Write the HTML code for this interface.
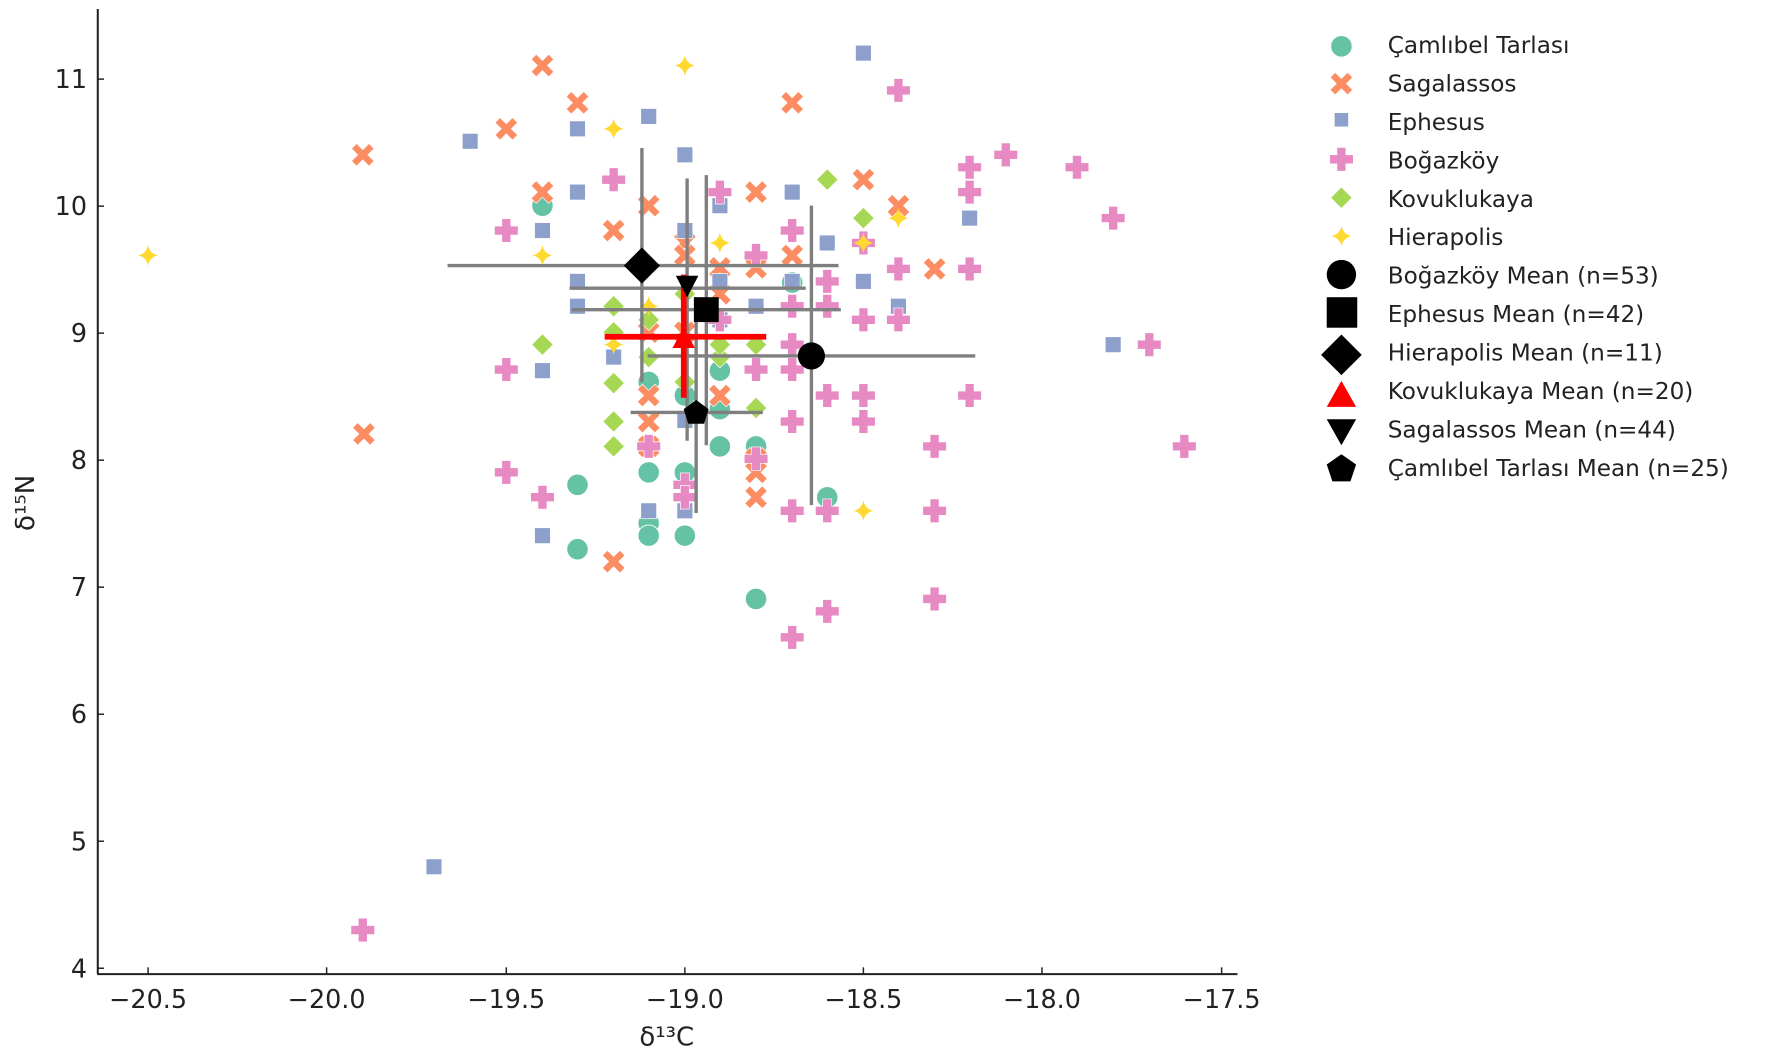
<!DOCTYPE html>
<html><head><meta charset="utf-8"><style>
html,body{margin:0;padding:0;background:#fff;}
svg{display:block;}
text{font-family:"DejaVu Sans","Liberation Sans",sans-serif;fill:#222;}
</style></head><body>
<svg width="1772" height="1060" viewBox="0 0 1568 938" xmlns="http://www.w3.org/2000/svg">
<defs>
<circle id="c" r="9.5" fill="#66c2a5" stroke="#fff" stroke-width="0.8"/>
<path id="x" d="M-10,-5.5 L-5.5,-10 L0,-4.5 L5.5,-10 L10,-5.5 L4.5,0 L10,5.5 L5.5,10 L0,4.5 L-5.5,10 L-10,5.5 L-4.5,0Z" fill="#fc8d62" stroke="#fff" stroke-width="0.6"/>
<rect id="s" x="-7" y="-7" width="14" height="14" fill="#8da0cb" stroke="#fff" stroke-width="0.6"/>
<path id="p" d="M-4,-10.5 H4 V-4 H10.5 V4 H4 V10.5 H-4 V4 H-10.5 V-4 H-4Z" fill="#e78ac3" stroke="#fff" stroke-width="0.6"/>
<path id="d" d="M0,-9.5 L9.5,0 L0,9.5 L-9.5,0Z" fill="#a6d854" stroke="#fff" stroke-width="0.6"/>
<path id="h" d="M0,-9 Q1.5,-1.5 9,0 Q1.5,1.5 0,9 Q-1.5,1.5 -9,0 Q-1.5,-1.5 0,-9Z" fill="#ffd92f"/>
</defs>
<g stroke="#222" stroke-width="1.8" fill="none">
<line x1="86.5" y1="8" x2="86.5" y2="862"/>
<line x1="86" y1="862" x2="1095" y2="862"/>
</g>
<g stroke="#222" stroke-width="1.3">
<line x1="131" y1="862" x2="131" y2="856"/><line x1="289" y1="862" x2="289" y2="856"/><line x1="448" y1="862" x2="448" y2="856"/><line x1="606" y1="862" x2="606" y2="856"/><line x1="764" y1="862" x2="764" y2="856"/><line x1="922" y1="862" x2="922" y2="856"/><line x1="1081" y1="862" x2="1081" y2="856"/>
<line x1="86" y1="70" x2="92" y2="70"/><line x1="86" y1="182.4" x2="92" y2="182.4"/><line x1="86" y1="294.8" x2="92" y2="294.8"/><line x1="86" y1="407.2" x2="92" y2="407.2"/><line x1="86" y1="519.6" x2="92" y2="519.6"/><line x1="86" y1="632" x2="92" y2="632"/><line x1="86" y1="744.4" x2="92" y2="744.4"/><line x1="86" y1="856.8" x2="92" y2="856.8"/>
</g>
<g font-size="22.5" text-anchor="middle">
<text x="131" y="892">−20.5</text><text x="289" y="892">−20.0</text><text x="448" y="892">−19.5</text><text x="606" y="892">−19.0</text><text x="764" y="892">−18.5</text><text x="922" y="892">−18.0</text><text x="1081" y="892">−17.5</text>
</g>
<g font-size="22.5" text-anchor="end">
<text x="77" y="78">11</text><text x="77" y="190.4">10</text><text x="77" y="302.8">9</text><text x="77" y="415.2">8</text><text x="77" y="527.6">7</text><text x="77" y="640">6</text><text x="77" y="752.4">5</text><text x="77" y="864.8">4</text>
</g>
<text x="590" y="925" font-size="23" text-anchor="middle">δ¹³C</text>
<text transform="translate(30,445) rotate(-90)" font-size="23" text-anchor="middle">δ¹⁵N</text>

<g>
<use href="#c" x="480" y="182"/><use href="#c" x="511" y="429"/><use href="#c" x="511" y="486"/><use href="#c" x="574" y="418"/><use href="#c" x="574" y="463"/><use href="#c" x="574" y="474"/><use href="#c" x="606" y="418"/><use href="#c" x="606" y="474"/><use href="#c" x="637" y="395"/><use href="#c" x="637" y="328"/><use href="#c" x="669" y="395"/><use href="#c" x="669" y="530"/><use href="#c" x="732" y="440"/><use href="#c" x="606" y="350"/><use href="#c" x="637" y="362"/><use href="#c" x="701" y="250"/><use href="#c" x="574" y="338"/>
</g>
<g>
<use href="#x" x="480" y="58"/><use href="#x" x="448" y="114"/><use href="#x" x="511" y="91"/><use href="#x" x="321" y="137"/><use href="#x" x="480" y="170"/><use href="#x" x="574" y="182"/><use href="#x" x="543" y="204"/><use href="#x" x="322" y="384"/><use href="#x" x="543" y="497"/><use href="#x" x="574" y="350"/><use href="#x" x="574" y="373"/><use href="#x" x="574" y="395"/><use href="#x" x="606" y="215"/><use href="#x" x="606" y="226"/><use href="#x" x="637" y="260"/><use href="#x" x="669" y="170"/><use href="#x" x="669" y="237"/><use href="#x" x="669" y="406"/><use href="#x" x="669" y="418"/><use href="#x" x="669" y="440"/><use href="#x" x="701" y="91"/><use href="#x" x="701" y="226"/><use href="#x" x="764" y="159"/><use href="#x" x="795" y="182"/><use href="#x" x="827" y="238"/><use href="#x" x="637" y="350"/><use href="#x" x="574" y="294"/><use href="#x" x="606" y="294"/><use href="#x" x="637" y="237"/>
</g>
<g>
<use href="#s" x="764" y="47"/><use href="#s" x="574" y="103"/><use href="#s" x="416" y="125"/><use href="#s" x="511" y="114"/><use href="#s" x="606" y="137"/><use href="#s" x="511" y="170"/><use href="#s" x="480" y="204"/><use href="#s" x="637" y="182"/><use href="#s" x="606" y="204"/><use href="#s" x="701" y="170"/><use href="#s" x="858" y="193"/><use href="#s" x="732" y="215"/><use href="#s" x="511" y="249"/><use href="#s" x="511" y="271"/><use href="#s" x="480" y="328"/><use href="#s" x="637" y="249"/><use href="#s" x="701" y="249"/><use href="#s" x="764" y="249"/><use href="#s" x="795" y="271"/><use href="#s" x="985" y="305"/><use href="#s" x="480" y="474"/><use href="#s" x="574" y="452"/><use href="#s" x="606" y="452"/><use href="#s" x="384" y="767"/><use href="#s" x="669" y="271"/><use href="#s" x="606" y="372"/><use href="#s" x="543" y="316"/><use href="#s" x="637" y="283"/>
</g>
<g>
<use href="#p" x="795" y="80"/><use href="#p" x="890" y="137"/><use href="#p" x="953" y="148"/><use href="#p" x="858" y="148"/><use href="#p" x="858" y="170"/><use href="#p" x="985" y="193"/><use href="#p" x="543" y="159"/><use href="#p" x="448" y="204"/><use href="#p" x="637" y="170"/><use href="#p" x="701" y="204"/><use href="#p" x="764" y="215"/><use href="#p" x="795" y="238"/><use href="#p" x="858" y="238"/><use href="#p" x="732" y="249"/><use href="#p" x="701" y="271"/><use href="#p" x="795" y="283"/><use href="#p" x="1017" y="305"/><use href="#p" x="448" y="327"/><use href="#p" x="669" y="327"/><use href="#p" x="701" y="327"/><use href="#p" x="732" y="350"/><use href="#p" x="764" y="350"/><use href="#p" x="858" y="350"/><use href="#p" x="701" y="373"/><use href="#p" x="764" y="373"/><use href="#p" x="827" y="395"/><use href="#p" x="1048" y="395"/><use href="#p" x="448" y="418"/><use href="#p" x="480" y="440"/><use href="#p" x="606" y="429"/><use href="#p" x="606" y="440"/><use href="#p" x="669" y="406"/><use href="#p" x="701" y="452"/><use href="#p" x="732" y="452"/><use href="#p" x="827" y="452"/><use href="#p" x="827" y="530"/><use href="#p" x="701" y="564"/><use href="#p" x="732" y="541"/><use href="#p" x="321" y="823"/><use href="#p" x="764" y="283"/><use href="#p" x="637" y="283"/><use href="#p" x="669" y="226"/><use href="#p" x="574" y="395"/><use href="#p" x="732" y="271"/><use href="#p" x="701" y="305"/>
</g>
<g>
<use href="#d" x="732" y="159"/><use href="#d" x="764" y="193"/><use href="#d" x="480" y="305"/><use href="#d" x="543" y="271"/><use href="#d" x="543" y="294"/><use href="#d" x="543" y="339"/><use href="#d" x="543" y="373"/><use href="#d" x="543" y="395"/><use href="#d" x="574" y="316"/><use href="#d" x="606" y="260"/><use href="#d" x="637" y="316"/><use href="#d" x="669" y="361"/><use href="#d" x="669" y="305"/><use href="#d" x="606" y="338"/><use href="#d" x="574" y="283"/><use href="#d" x="637" y="305"/>
</g>
<g>
<use href="#h" x="131" y="226"/><use href="#h" x="606" y="58"/><use href="#h" x="543" y="114"/><use href="#h" x="480" y="226"/><use href="#h" x="637" y="215"/><use href="#h" x="795" y="193"/><use href="#h" x="764" y="452"/><use href="#h" x="543" y="305"/><use href="#h" x="574" y="271"/><use href="#h" x="764" y="215"/>
</g>

<g stroke="#7f7f7f" stroke-width="3">
<line x1="396" y1="235" x2="742" y2="235"/><line x1="568" y1="131" x2="568" y2="338"/>
<line x1="504" y1="255" x2="713" y2="255"/><line x1="608" y1="158" x2="608" y2="390"/>
<line x1="506" y1="274" x2="744" y2="274"/><line x1="625" y1="155" x2="625" y2="394"/>
<line x1="573" y1="315" x2="863" y2="315"/><line x1="718" y1="182" x2="718" y2="447"/>
<line x1="558" y1="365" x2="675" y2="365"/><line x1="616" y1="263" x2="616" y2="454"/>
</g>
<g stroke="#ff0000" stroke-width="5">
<line x1="535" y1="298" x2="678" y2="298"/><line x1="605" y1="243" x2="605" y2="352"/>
</g>
<path d="M568,219 L584,235 L568,251 L552,235Z" fill="#000"/>
<path d="M598,244 L618,244 L608,263Z" fill="#000"/>
<rect x="614" y="263" width="22" height="22" fill="#000"/>
<circle cx="718" cy="315" r="12" fill="#000"/>
<path d="M605,290 L615,308 L595,308Z" fill="#ff0000"/>
<path d="M616,354 L627,362 L623,375 L609,375 L605,362Z" fill="#000"/>

<g>
<use href="#c" x="1187" y="41"/>
<use href="#x" x="1187" y="74"/>
<rect x="1181" y="100" width="12" height="12" fill="#8da0cb"/>
<use href="#p" x="1187" y="141"/>
<use href="#d" x="1187" y="175"/>
<use href="#h" x="1187" y="209"/>
<circle cx="1187" cy="243" r="13" fill="#000"/>
<rect x="1174" y="263" width="27" height="27" fill="#000"/>
<path d="M1187,296 L1205,314 L1187,332 L1169,314Z" fill="#000"/>
<path d="M1187,337 L1200,360 L1174,360Z" fill="#ff0000"/>
<path d="M1174,371 L1200,371 L1187,394Z" fill="#000"/>
<path d="M1187,402 L1200,411 L1195,426 L1179,426 L1174,411Z" fill="#000"/>
</g>
<g font-size="20.5">
<text x="1228" y="47">Çamlıbel Tarlası</text>
<text x="1228" y="81">Sagalassos</text>
<text x="1228" y="115">Ephesus</text>
<text x="1228" y="149">Boğazköy</text>
<text x="1228" y="183">Kovuklukaya</text>
<text x="1228" y="217">Hierapolis</text>
<text x="1228" y="251">Boğazköy Mean (n=53)</text>
<text x="1228" y="285">Ephesus Mean (n=42)</text>
<text x="1228" y="319">Hierapolis Mean (n=11)</text>
<text x="1228" y="353">Kovuklukaya Mean (n=20)</text>
<text x="1228" y="387">Sagalassos Mean (n=44)</text>
<text x="1228" y="421">Çamlıbel Tarlası Mean (n=25)</text>
</g>
</svg>
</body></html>
